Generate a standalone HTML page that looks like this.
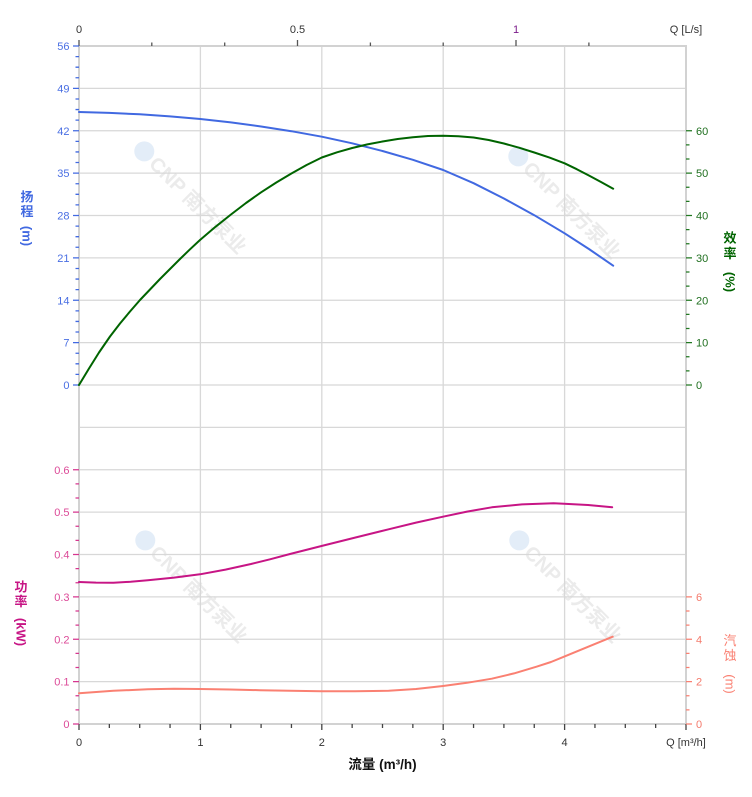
<!DOCTYPE html>
<html><head><meta charset="utf-8"><style>
html,body{margin:0;padding:0;background:#fff;}
svg{display:block;font-family:"Liberation Sans","Noto Sans CJK SC",sans-serif;}
</style></head><body>
<svg width="752" height="797" viewBox="0 0 752 797" xmlns="http://www.w3.org/2000/svg">
<rect width="752" height="797" fill="#fff"/>

<!-- watermarks -->
<g font-family="Liberation Sans, Noto Sans CJK SC, sans-serif" font-weight="bold" font-size="20">
  <g transform="translate(186,203) rotate(45)">
    <circle cx="-66" cy="-7" r="10" fill="#e3edf8"/>
    <text x="10" y="0" text-anchor="middle" fill="#ebebeb">CNP 南方泵业</text>
  </g>
  <g transform="translate(560,208) rotate(45)">
    <circle cx="-66" cy="-7" r="10" fill="#e3edf8"/>
    <text x="10" y="0" text-anchor="middle" fill="#ebebeb">CNP 南方泵业</text>
  </g>
  <g transform="translate(187,592) rotate(45)">
    <circle cx="-66" cy="-7" r="10" fill="#e3edf8"/>
    <text x="10" y="0" text-anchor="middle" fill="#ebebeb">CNP 南方泵业</text>
  </g>
  <g transform="translate(561,592) rotate(45)">
    <circle cx="-66" cy="-7" r="10" fill="#e3edf8"/>
    <text x="10" y="0" text-anchor="middle" fill="#ebebeb">CNP 南方泵业</text>
  </g>
</g>

<!-- grid -->
<g stroke="#d8d8d8" stroke-width="1.3" fill="none">
  <path d="M79 88.375H686M79 130.75H686M79 173.125H686M79 215.5H686M79 257.875H686M79 300.25H686M79 342.625H686M79 385H686M79 427.375H686M79 469.75H686M79 512.125H686M79 554.5H686M79 596.875H686M79 639.25H686M79 681.625H686"/>
  <path d="M200.4 46V724M321.8 46V724M443.2 46V724M564.6 46V724"/>
</g>
<rect x="79" y="46" width="607" height="678" fill="none" stroke="#d2d2d2" stroke-width="2"/>

<!-- top axis ticks -->
<g stroke="#555" stroke-width="1.3">
  <path d="M79 46V40M297.5 46V40M516 46V40"/>
  <path d="M151.8 46V42.5M224.7 46V42.5M370.4 46V42.5M443.2 46V42.5M588.9 46V42.5"/>
</g>
<g font-size="11" text-anchor="middle">
  <text x="79" y="33" fill="#333">0</text>
  <text x="297.5" y="33" fill="#333">0.5</text>
  <text x="516" y="33" fill="#7a1a8a">1</text>
  <text x="686" y="33" fill="#333">Q [L/s]</text>
</g>

<!-- bottom axis ticks -->
<g stroke="#444" stroke-width="1.3">
  <path d="M79 724V730M200.4 724V730M321.8 724V730M443.2 724V730M564.6 724V730M686 724V730"/>
  <path d="M109.35 724V728M139.7 724V728M170.05 724V728M230.75 724V728M261.1 724V728M291.45 724V728M352.15 724V728M382.5 724V728M412.85 724V728M473.55 724V728M503.9 724V728M534.25 724V728M594.95 724V728M625.3 724V728M655.65 724V728"/>
</g>
<g font-size="11" text-anchor="middle" fill="#333">
  <text x="79" y="746">0</text>
  <text x="200.4" y="746">1</text>
  <text x="321.8" y="746">2</text>
  <text x="443.2" y="746">3</text>
  <text x="564.6" y="746">4</text>
  <text x="686" y="746">Q [m³/h]</text>
</g>
<text x="382.5" y="769" font-size="13.5" font-weight="bold" text-anchor="middle" fill="#111">流量 (m³/h)</text>

<!-- left head axis -->
<g stroke="#4169e1" stroke-width="1.3">
  <path d="M73 46H79M73 88.375H79M73 130.75H79M73 173.125H79M73 215.5H79M73 257.875H79M73 300.25H79M73 342.625H79M73 385H79"/>
  <path d="M75.5 56.59H79M75.5 67.19H79M75.5 77.78H79M75.5 98.97H79M75.5 109.56H79M75.5 120.16H79M75.5 141.34H79M75.5 151.94H79M75.5 162.53H79M75.5 183.72H79M75.5 194.31H79M75.5 204.91H79M75.5 226.09H79M75.5 236.69H79M75.5 247.28H79M75.5 268.47H79M75.5 279.06H79M75.5 289.66H79M75.5 310.84H79M75.5 321.44H79M75.5 332.03H79M75.5 353.22H79M75.5 363.81H79M75.5 374.41H79"/>
</g>
<g font-size="11" text-anchor="end" fill="#4a6fe3">
  <text x="69.5" y="50">56</text>
  <text x="69.5" y="92.4">49</text>
  <text x="69.5" y="134.8">42</text>
  <text x="69.5" y="177.1">35</text>
  <text x="69.5" y="219.5">28</text>
  <text x="69.5" y="261.9">21</text>
  <text x="69.5" y="304.3">14</text>
  <text x="69.5" y="346.6">7</text>
  <text x="69.5" y="389">0</text>
</g>
<g fill="#4169e1" font-weight="bold" font-size="13">
  <text x="27" y="201.5" text-anchor="middle">扬</text>
  <text x="27" y="216" text-anchor="middle">程</text>
  <text transform="translate(22.5,236) rotate(90)" text-anchor="middle">(m)</text>
</g>

<!-- left power axis -->
<g stroke="#d6368f" stroke-width="1.3">
  <path d="M73 469.75H79M73 512.125H79M73 554.5H79M73 596.875H79M73 639.25H79M73 681.625H79M73 724H79"/>
  <path d="M75.5 483.875H79M75.5 498H79M75.5 526.25H79M75.5 540.375H79M75.5 568.625H79M75.5 582.75H79M75.5 611H79M75.5 625.125H79M75.5 653.375H79M75.5 667.5H79M75.5 695.75H79M75.5 709.875H79"/>
</g>
<g font-size="11" text-anchor="end" fill="#dc4a98">
  <text x="69.5" y="473.8">0.6</text>
  <text x="69.5" y="516.1">0.5</text>
  <text x="69.5" y="558.5">0.4</text>
  <text x="69.5" y="600.9">0.3</text>
  <text x="69.5" y="643.3">0.2</text>
  <text x="69.5" y="685.6">0.1</text>
  <text x="69.5" y="728">0</text>
</g>
<g fill="#c71585" font-weight="bold" font-size="13">
  <text x="21" y="591.5" text-anchor="middle">功</text>
  <text x="21" y="606" text-anchor="middle">率</text>
  <text transform="translate(16.5,632) rotate(90)" text-anchor="middle">(kW)</text>
</g>

<!-- right efficiency axis -->
<g stroke="#217821" stroke-width="1.3">
  <path d="M686 130.75H692M686 173.125H692M686 215.5H692M686 257.875H692M686 300.25H692M686 342.625H692M686 385H692"/>
  <path d="M686 144.875H689.5M686 159H689.5M686 187.25H689.5M686 201.375H689.5M686 229.625H689.5M686 243.75H689.5M686 272H689.5M686 286.125H689.5M686 314.375H689.5M686 328.5H689.5M686 356.75H689.5M686 370.875H689.5"/>
</g>
<g font-size="11" fill="#1f6f1f">
  <text x="696" y="134.8">60</text>
  <text x="696" y="177.1">50</text>
  <text x="696" y="219.5">40</text>
  <text x="696" y="261.9">30</text>
  <text x="696" y="304.3">20</text>
  <text x="696" y="346.6">10</text>
  <text x="696" y="389">0</text>
</g>
<g fill="#006400" font-weight="bold" font-size="13">
  <text x="730" y="242.5" text-anchor="middle">效</text>
  <text x="730" y="258" text-anchor="middle">率</text>
  <text transform="translate(725.5,282) rotate(90)" text-anchor="middle">(%)</text>
</g>

<!-- right NPSH axis -->
<g stroke="#fa8072" stroke-width="1.3">
  <path d="M686 596.875H692M686 639.25H692M686 681.625H692M686 724H692"/>
  <path d="M686 611H689.5M686 625.125H689.5M686 653.375H689.5M686 667.5H689.5M686 695.75H689.5M686 709.875H689.5"/>
</g>
<g font-size="11" fill="#f47a6c">
  <text x="696" y="600.9">6</text>
  <text x="696" y="643.3">4</text>
  <text x="696" y="685.6">2</text>
  <text x="696" y="728">0</text>
</g>
<g fill="#fa8072" font-size="13">
  <text x="730" y="645" text-anchor="middle">汽</text>
  <text x="730" y="660" text-anchor="middle">蚀</text>
  <text transform="translate(725.5,684) rotate(90)" text-anchor="middle">(m)</text>
</g>

<!-- curves -->
<g fill="none" stroke-width="2" stroke-linejoin="round" stroke-linecap="round">
  <polyline stroke="#4169e1" points="79,112 109.4,112.9 139.7,114.3 170,116.4 200.4,119 230.8,122.4 261.1,126.5 291.4,131.2 321.8,136.7 352.2,143.3 382.5,151 412.9,159.8 443.2,170 473.6,183.2 503.9,198.5 534.3,215.2 564.6,233.3 588.9,249 613.2,265.7"/>
  <polyline stroke="#006400" points="79,385 89,368.5 99,352.5 110,336.5 120,323.5 130,311.5 140,300 150,289.5 160,279 170,269 180,259 190,249.3 200,240 215.5,226.8 230.8,214.6 246,203 261.1,192.3 276.3,182.5 291.4,173.5 306.6,165 321.8,157.5 337,152.3 352.2,148 367.4,144.4 382.5,141.5 397.7,139 412.9,137.3 428,136 443.2,135.7 458.4,136.2 473.6,137.5 488.7,140 503.9,143.5 519,147.7 534.3,152.5 549.5,157.6 564.6,163.3 576.8,169.2 588.9,175.5 601,182 613.2,188.7"/>
  <polyline stroke="#c71585" points="79,582 96,582.6 113.4,582.7 130.6,581.8 147.8,580.3 174,577.6 200,574.3 225.5,569.6 251,564 270,559.3 290,554 321.5,546 355,537.6 388.6,529.3 416,522.6 443,516.7 467,511.6 491.8,507.3 522,504.4 553.7,503.3 564,503.7 588,505 612.2,507.3"/>
  <polyline stroke="#fa8072" points="79,693.3 113.4,690.8 147.8,689.3 174,688.8 200,689 230,689.5 260,690.2 290,690.8 321.5,691.3 355,691.3 388.6,690.7 416,689 443,686 467,682.8 491.8,678.7 514,673.4 536.5,666.7 551,662 564,656.7 588,646.8 612.7,636.7"/>
</g>
</svg>
</body></html>
